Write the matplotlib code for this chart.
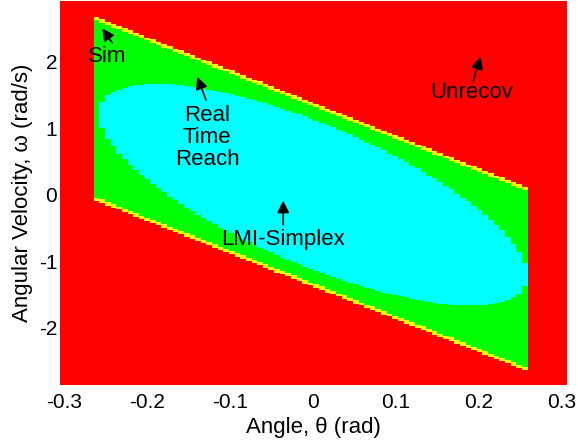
import numpy as np
import matplotlib
matplotlib.use("Agg")
import matplotlib.pyplot as plt
from matplotlib.colors import ListedColormap

plt.rcParams['font.family'] = ['Liberation Sans', 'DejaVu Sans']

# ---- region parameters ----
theta_limit = 0.2615         # |theta| bound of the reachable band (rad)
band_slope = -4.93           # omega boundary slope (rad/s per rad)
sim_halfwidth = 1.38         # Sim region half-width in omega at theta = 0
rt_halfwidth = 1.33          # Real Time Reach half-width in omega

# LMI-Simplex boundary points (theta, omega)
lmi_theta = [-0.262, -0.259, -0.259, -0.249, -0.223, -0.157, -0.027,
             -0.256, -0.228, -0.188, -0.148, -0.109, -0.067,
             0.02, 0.06, 0.10, 0.14, 0.18, 0.221, 0.249, 0.257, 0.262]
lmi_omega = [1.17, 0.97, 1.38, 1.45, 1.55, 1.62, 1.38,
             0.90, 0.495, 0.105, -0.195, -0.42, -0.645,
             -1.23, -1.38, -1.53, -1.60, -1.62, -1.53, -1.38, -1.17, -1.17]

theta_range = [-0.305, 0.306]
omega_range = [-2.86, 2.91]
n_theta_cells = 90
n_omega_cells = 420

region_colors = ['#ff0000', '#ffff00', '#00ff00', '#00ffff']  # Unrecov, Sim, Real Time Reach, LMI-Simplex

x_ticks = [-0.3, -0.2, -0.1, 0, 0.1, 0.2, 0.3]
x_ticklabels = ['-0.3', '-0.2', '-0.1', '0', '0.1', '0.2', '0.3']
y_ticks = [-2, -1, 0, 1, 2]
y_ticklabels = ['-2', '-1', '0', '1', '2']

labels = ['Sim', 'Real\nTime\nReach', 'LMI-Simplex', 'Unrecov']
label_pos = [(-0.248, 2.07), (-0.1275, 0.855), (-0.036, -0.675), (0.191, 1.53)]
arrow_heads = [(-0.254, 2.50), (-0.1395, 1.77), (-0.036, -0.09), (0.202, 2.07)]
arrow_tails = [(-0.242, 2.28), (-0.129, 1.42), (-0.036, -0.45), (0.193, 1.71)]

# ---- fit centred ellipse a*t^2 + 2b*t*w + c*w^2 = 1 to boundary points ----
t = np.array(lmi_theta)
w = np.array(lmi_omega)
A = np.column_stack([t**2, 2 * t * w, w**2])
coef, *_ = np.linalg.lstsq(A, np.ones_like(t), rcond=None)
ea, eb, ec = coef

# ---- classify grid ----
th_edges = np.linspace(theta_range[0], theta_range[1], n_theta_cells + 1)
om_edges = np.linspace(omega_range[0], omega_range[1], n_omega_cells + 1)
th_c = 0.5 * (th_edges[:-1] + th_edges[1:])
om_c = 0.5 * (om_edges[:-1] + om_edges[1:])
TH, OM = np.meshgrid(th_c, om_c)

dev = OM - band_slope * TH
inside_theta = np.abs(TH) <= theta_limit
sim = inside_theta & (np.abs(dev) <= sim_halfwidth)
rt = inside_theta & (np.abs(dev) <= rt_halfwidth)
q = ea * TH**2 + 2 * eb * TH * OM + ec * OM**2
lmi = rt & (q <= 1.0)

Z = np.zeros_like(TH, dtype=int)
Z[sim] = 1
Z[rt] = 2
Z[lmi] = 3

fig = plt.figure(figsize=(5.78, 4.45), dpi=100)
ax = fig.add_axes([60 / 578, 1 - 385 / 445, 507 / 578, 384 / 445])
ax.pcolormesh(th_edges, om_edges, Z, cmap=ListedColormap(region_colors), vmin=-0.5, vmax=3.5,
              shading='flat', rasterized=True)
ax.set_xlim(theta_range)
ax.set_ylim(omega_range)
for s in ax.spines.values():
    s.set_visible(False)
ax.set_xticks(x_ticks)
ax.set_xticklabels(x_ticklabels)
ax.set_yticks(y_ticks)
ax.set_yticklabels(y_ticklabels)
ax.tick_params(axis='x', length=0, pad=6, labelsize=15)
ax.tick_params(axis='y', length=0, pad=2, labelsize=15)
ax.set_xlabel('Angle, θ (rad)', fontsize=16, labelpad=3)
ax.set_ylabel('Angular Velocity, ω (rad/s)', fontsize=16, labelpad=4)

for lab, pos, head, tail in zip(labels, label_pos, arrow_heads, arrow_tails):
    ax.text(pos[0], pos[1], lab, ha='center', va='center', fontsize=16, linespacing=1.05)
    ax.annotate('', xy=head, xytext=tail,
                arrowprops=dict(arrowstyle='-|>', color='black', lw=1.2,
                                mutation_scale=18, shrinkA=0, shrinkB=0))

fig.savefig('out.png', dpi=100)
